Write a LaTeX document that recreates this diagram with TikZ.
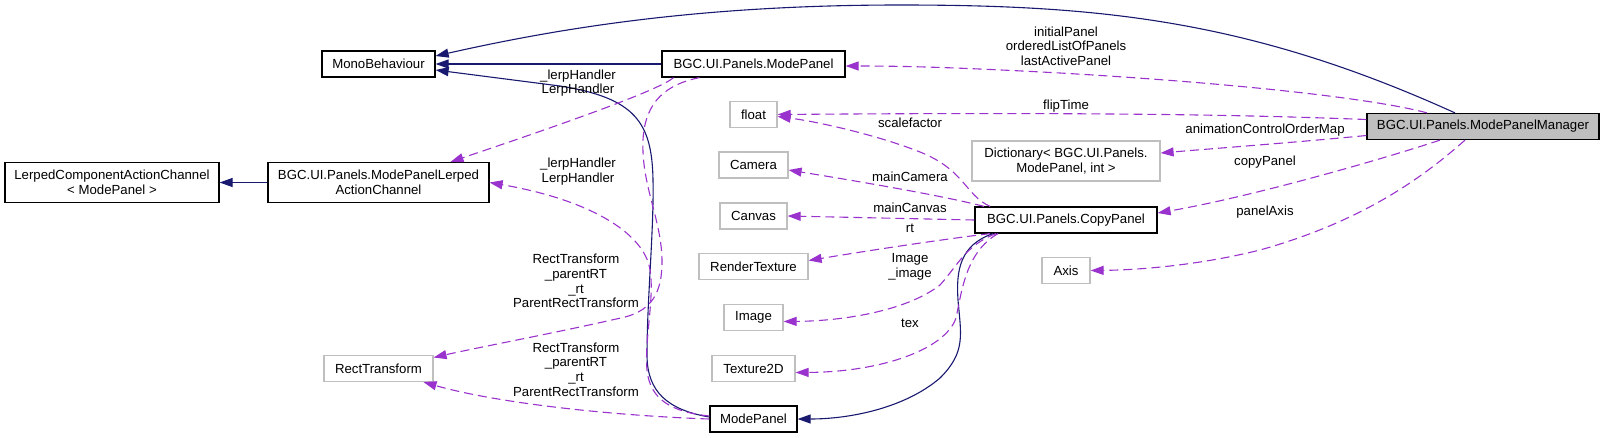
\documentclass[tikz,border=0pt]{standalone}
\usepackage{fontspec}
\setmainfont{Liberation Sans}
\usetikzlibrary{arrows.meta}
\definecolor{azulnoche}{HTML}{191970}
\definecolor{orquidea}{HTML}{9A32CD}
\definecolor{grisclaro}{HTML}{BFBFBF}

\begin{document}
\begin{tikzpicture}[x=1pt, y=-1pt,
    font=\fontsize{13.2}{14.7}\selectfont,
    clase/.style={draw=black, line width=1.2pt, inner sep=2pt, minimum height=26pt, align=center},
    externa/.style={clase, draw=grisclaro},
    herencia/.style={draw=azulnoche, line width=1.1pt, -{Triangle[length=13pt,width=9pt]}},
    uso/.style={draw=orquidea, line width=1.1pt, dash pattern=on 9pt off 5pt, -{Triangle[length=13pt,width=9pt]}},
    etiqueta/.style={align=center, inner sep=0pt}]
    \useasboundingbox (0,0) rectangle (1605,437);

    % Clases principales
    \node[clase, minimum width=113pt] (mono) at (378.5,64) {MonoBehaviour};
    \node[clase, minimum width=214pt, minimum height=40pt] (lcac) at (112,182.5) {LerpedComponentActionChannel\\< ModePanel >};
    \node[clase, minimum width=221pt, minimum height=40pt] (mplac) at (378.5,182.5) {BGC.UI.Panels.ModePanelLerped\\ActionChannel};
    \node[externa, minimum width=109pt] (rect) at (378.5,368.5) {RectTransform};

    % Columna central
    \node[clase, minimum width=183pt] (mpbgc) at (753.5,64) {BGC.UI.Panels.ModePanel};
    \node[externa, minimum width=47pt] (float) at (753.5,114.5) {float};
    \node[externa, minimum width=69pt] (camera) at (753.5,165) {Camera};
    \node[externa, minimum width=67pt] (canvas) at (753.5,216) {Canvas};
    \node[externa, minimum width=109pt] (rtex) at (753.5,266.5) {RenderTexture};
    \node[externa, minimum width=59pt] (image) at (753.5,317.5) {Image};
    \node[externa, minimum width=83pt] (tex) at (753.5,368.5) {Texture2D};
    \node[clase, minimum width=87pt] (mp) at (753.5,419) {ModePanel};

    % Columna derecha
    \node[externa, minimum width=188pt, minimum height=40pt] (dict) at (1066,161) {Dictionary< BGC.UI.Panels.\\ModePanel, int >};
    \node[clase, minimum width=182pt] (copy) at (1066,220) {BGC.UI.Panels.CopyPanel};
    \node[externa, minimum width=48pt] (axis) at (1066,270.5) {Axis};
    \node[clase, fill=grisclaro, minimum width=232pt] (mgr) at (1483,126.5) {BGC.UI.Panels.ModePanelManager};

    % Herencia (azul)
    \draw[herencia] ([xshift=-28pt]mgr.north) .. controls (1250,20) and (1100,5) .. (900,5) .. controls (700,5) and (560,28) .. ([yshift=8pt]mono.east);
    \draw[herencia] (mpbgc.west) -- (mono.east);
    \draw[herencia] ([yshift=2pt]mp.west) .. controls (668,410) and (647,392) .. (647,355) .. controls (647,300) and (654,230) .. (653,180) .. controls (652,122) and (635,98) .. (560,86) -- ([yshift=-6pt]mono.east);
    \draw[herencia] ([xshift=-73pt]copy.south) .. controls (960,245) and (956,270) .. (958,300) .. controls (961,335) and (966,352) .. (940,378) .. controls (905,408) and (850,419) .. (mp.east);
    \draw[herencia] (mplac.west) -- (lcac.east);

    % Miembros de ModePanelManager
    \draw[uso] ([xshift=-56pt]mgr.north) .. controls (1380,100) and (1250,84) .. (1060,73) .. controls (950,67) and (900,66) .. ([yshift=-2pt]mpbgc.east);
    \draw[uso] ([yshift=7pt]mgr.west) .. controls (1250,115) and (1100,112) .. (float.east);
    \draw[uso] ([yshift=-9pt]mgr.west) .. controls (1300,142) and (1220,148) .. ([yshift=8pt]dict.east);
    \draw[uso] ([xshift=-43pt]mgr.south) .. controls (1380,160) and (1250,197) .. ([yshift=7pt]copy.east);
    \draw[uso] ([xshift=-18pt]mgr.south) .. controls (1420,180) and (1360,222) .. (1260,250) .. controls (1200,265) and (1140,270) .. (axis.east);

    % Miembros de CopyPanel
    \draw[uso] ([xshift=-76pt]copy.north) .. controls (965,195) and (965,170) .. (920,152) .. controls (880,136) and (820,122) .. ([yshift=-2pt]float.east);
    \draw[uso] ([xshift=-82pt]copy.north) .. controls (940,195) and (850,180) .. ([yshift=-5pt]camera.east);
    \draw[uso] (copy.west) -- (canvas.east);
    \draw[uso] ([xshift=-76pt]copy.south) .. controls (930,241) and (860,252) .. ([yshift=6pt]rtex.east);
    \draw[uso] ([xshift=-70pt]copy.south) .. controls (966,245) and (958,265) .. (940,285) .. controls (905,312) and (840,321) .. ([yshift=-4pt]image.east);
    \draw[uso] ([xshift=-68pt]copy.south) .. controls (966,252) and (962,290) .. (956,318) .. controls (945,350) and (880,372) .. ([yshift=-4pt]tex.east);

    % Miembros de los dos ModePanel
    \draw[uso] ([xshift=-80pt]mpbgc.south) .. controls (660,90) and (560,125) .. ([xshift=72pt]mplac.north);
    \draw[uso] ([xshift=-54pt]mpbgc.south) .. controls (668,84) and (645,100) .. (643,140) .. controls (641,185) and (662,220) .. (662,262) .. controls (662,292) and (652,310) .. (625,317) .. controls (560,332) and (480,347) .. ([yshift=11pt]rect.east);
    \draw[uso] ([yshift=3pt]mp.west) .. controls (672,412) and (650,400) .. (647,370) .. controls (644,340) and (656,292) .. (649,265) .. controls (640,232) and (590,200) .. (mplac.east);
    \draw[uso] (mp.west) .. controls (620,416) and (500,404) .. ([xshift=45pt]rect.south);

    % Etiquetas de los miembros
    \node[etiqueta] (lpanel) at (1066,46) {initialPanel\\orderedListOfPanels\\lastActivePanel};
    \node[etiqueta] (lflip) at (1066,106) {flipTime};
    \node[etiqueta] (lanim) at (1265,130) {animationControlOrderMap};
    \node[etiqueta] (lcopy) at (1265,162) {copyPanel};
    \node[etiqueta] (laxis) at (1265,212) {panelAxis};
    \node[etiqueta] (lscale) at (910,123) {scalefactor};
    \node[etiqueta] (lcamera) at (910,177) {mainCamera};
    \node[etiqueta] (lcanvas) at (910,208) {mainCanvas};
    \node[etiqueta] (lrt) at (910,228) {rt};
    \node[etiqueta] (limage) at (910,267) {Image\\\_image};
    \node[etiqueta] (ltex) at (910,323) {tex};
    \node[etiqueta] (llerpa) at (578,83) {\_lerpHandler\\LerpHandler};
    \node[etiqueta] (llerpb) at (578,171.5) {\_lerpHandler\\LerpHandler};
    \node[etiqueta] (lrecta) at (576,281) {RectTransform\\\_parentRT\\\_rt\\ParentRectTransform};
    \node[etiqueta] (lrectb) at (576,369.5) {RectTransform\\\_parentRT\\\_rt\\ParentRectTransform};

\end{tikzpicture}
\end{document}
